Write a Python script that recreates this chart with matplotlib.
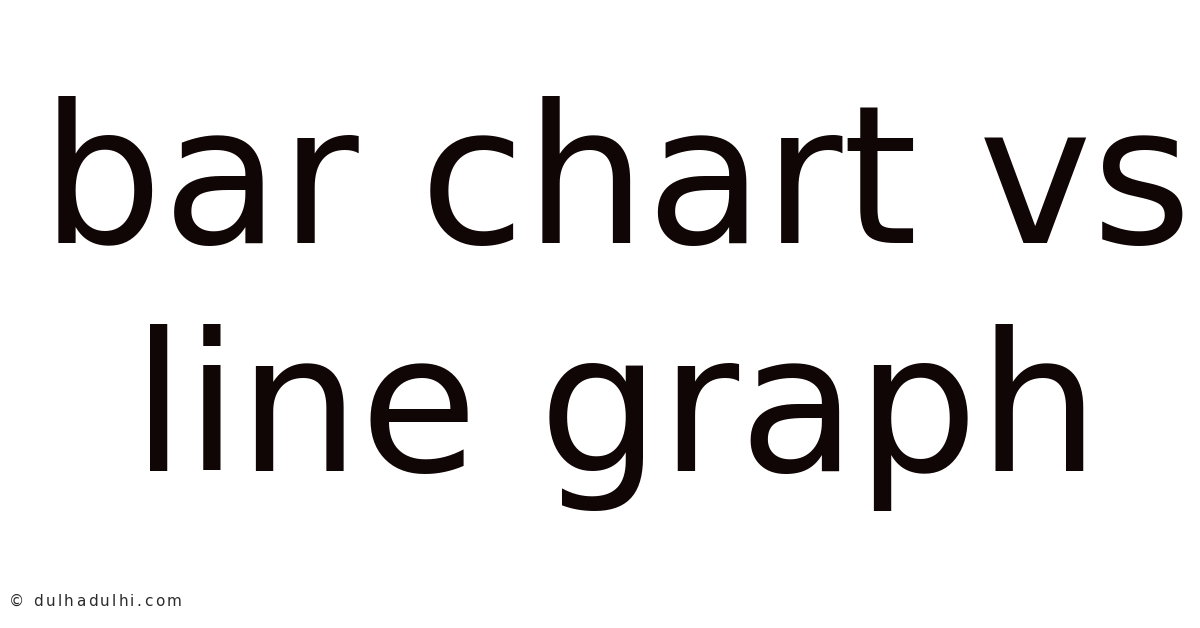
import matplotlib
matplotlib.use("Agg")
import matplotlib.pyplot as plt

# title lines and watermark shown on the card
title_lines = ["bar chart vs", "line graph"]
line_baselines = [243, 471]   # pixel rows, from top
watermark = "\u00a9 dulhadulhi.com"

W, H = 1200, 628
fig = plt.figure(figsize=(W / 100, H / 100), dpi=100)
fig.patch.set_facecolor("white")

for text, base in zip(title_lines, line_baselines):
    fig.text(616 / W, 1 - base / H, text, ha="center", va="baseline",
             fontsize=138, color="#110606", family="DejaVu Sans")

# watermark is letter-spaced, so lay it out one char at a time
renderer = fig.canvas.get_renderer()
x = 9
for ch in watermark:
    t = fig.text(x / W, 1 - 606 / H, ch, ha="left", va="baseline",
                 fontsize=11, color="#2b2b2b", family="DejaVu Sans")
    if ch == " ":
        x += 7
    else:
        x += t.get_window_extent(renderer).width + 2.3

fig.savefig("out.png", dpi=100, facecolor="white")
